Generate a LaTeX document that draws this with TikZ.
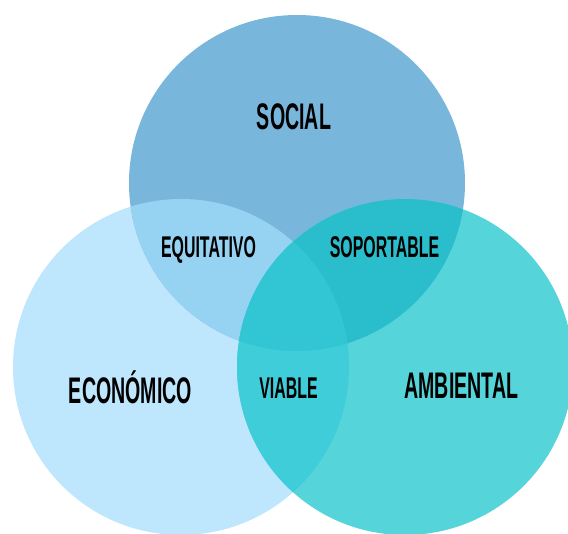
\documentclass[tikz,border=0pt]{standalone}
\usepackage{fontspec}
\newfontfamily\vennfont[FakeStretch=0.53]{Liberation Sans}
\usetikzlibrary{positioning}

\begin{document}
\begin{tikzpicture}[x=1pt,y=-1pt,
    setlabel/.style={font=\vennfont\bfseries\fontsize{37}{37}\selectfont, text=black, inner sep=0pt, anchor=base},
    pairlabel/.style={font=\vennfont\bfseries\fontsize{30}{30}\selectfont, text=black, inner sep=0pt, anchor=base}]
  \definecolor{economicoC}{HTML}{BEE6FC}
  \definecolor{socialC}{HTML}{79B6DB}
  \definecolor{ambientalC}{HTML}{55D4D9}
  \definecolor{equitativoC}{HTML}{96D2F2}
  \definecolor{soportableC}{HTML}{2ABECD}
  \definecolor{viableC}{HTML}{3ECDD9}
  \definecolor{centreC}{HTML}{32C6D5}
  \def\rad{168pt}
  \useasboundingbox (0,0) rectangle (568,534);
  \coordinate (top) at (297,183);
  \coordinate (left) at (181,367);
  \coordinate (right) at (405,367);
  \begin{scope}
    \clip (0,0) rectangle (568,534);
    \fill[economicoC] (left) circle (\rad);
    \fill[socialC] (top) circle (\rad);
    \fill[ambientalC] (right) circle (\rad);
    % overlaps
    \begin{scope}
      \clip (top) circle (\rad);
      \fill[equitativoC] (left) circle (\rad);
      \fill[soportableC] (right) circle (\rad);
    \end{scope}
    \begin{scope}
      \clip (left) circle (\rad);
      \fill[viableC] (right) circle (\rad);
      \clip (top) circle (\rad);
      \fill[centreC] (right) circle (\rad);
    \end{scope}
  \end{scope}
  \node[setlabel] (social) at (294,130) {SOCIAL};
  \node[setlabel] (economico) at (130.5,404) {ECONÓMICO};
  \node[setlabel] (ambiental) at (461.5,399) {AMBIENTAL};
  \node[pairlabel] (equitativo) at (208.5,258) {EQUITATIVO};
  \node[pairlabel] (soportable) at (384.5,258) {SOPORTABLE};
  \node[pairlabel] (viable) at (288.5,399) {VIABLE};
\end{tikzpicture}
\end{document}
